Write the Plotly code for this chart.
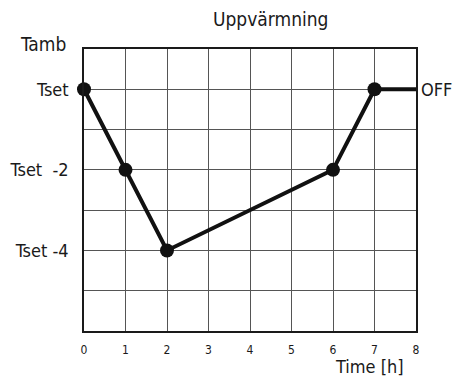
"""
Uppvärmning - temperaturkurva (Tamb vs tid)
"""

import plotly.graph_objects as go

# Data: tid i timmar och temperatur relativt Tset
hours = [0, 1, 2, 6, 7, 8]
temp_offset = [0, -2, -4, -2, 0, 0]
marker_sizes = [14, 14, 14, 14, 14, 0]

x_ticks = [0, 1, 2, 3, 4, 5, 6, 7, 8]
y_tick_vals = [0, -2, -4]
y_tick_text = ["Tset", "Tset\u00a0 -2", "Tset -4"]

FONT = "DejaVu Sans Condensed, Roboto, sans-serif"

# sidan har 8px marginal i webbläsaren -> figuren görs lite mindre
W, H = 458, 377

fig = go.Figure()
fig.add_trace(go.Scatter(
    x=hours,
    y=temp_offset,
    mode="lines+markers",
    line=dict(color="#111", width=4),
    marker=dict(color="#111", size=marker_sizes, opacity=1, line=dict(width=0)),
    cliponaxis=False,
    showlegend=False,
))

fig.update_layout(
    width=W,
    height=H,
    plot_bgcolor="white",
    paper_bgcolor="white",
    font=dict(family=FONT, color="#1a1a1a"),
    margin=dict(l=76, r=50, t=41, b=54, autoexpand=False),
    annotations=[
        dict(text="Uppvärmning", x=(270 - 84) / 332, y=1, xref="paper", yref="paper",
             xanchor="center", yanchor="middle", yshift=30, showarrow=False,
             font=dict(size=19)),
        dict(text="Tamb", x=0, y=1, xref="paper", yref="paper", xanchor="right",
             yanchor="middle", xshift=-16, yshift=5, showarrow=False, font=dict(size=19)),
        dict(text="Time [h]", x=(369 - 84) / 332, y=0, xref="paper", yref="paper",
             xanchor="center", yanchor="middle", yshift=-35, showarrow=False,
             font=dict(size=18)),
        dict(text="OFF", x=8, y=0, xref="x", yref="y", xanchor="left",
             xshift=3, showarrow=False, font=dict(size=18)),
    ],
)

fig.update_xaxes(
    range=[0, 8],
    tickvals=x_ticks,
    tickfont=dict(size=12),
    ticklabelstandoff=7,
    automargin=False,
    showgrid=True, gridcolor="#555", gridwidth=1.3,
    showline=True, linecolor="#1a1a1a", linewidth=1.5, mirror=True,
    zeroline=False, ticks="",
)
fig.update_yaxes(
    range=[-6, 1],
    tickvals=y_tick_vals,
    ticktext=y_tick_text,
    tickfont=dict(size=18),
    ticklabelstandoff=10,
    automargin=False,
    showgrid=True, gridcolor="#555", gridwidth=1.3,
    showline=True, linecolor="#1a1a1a", linewidth=1.5, mirror=True,
    zeroline=False, ticks="",
)
# rutnät för varje grad (även utan etikett)
fig.update_yaxes(minor=dict(dtick=1, tick0=0, showgrid=True, gridcolor="#555", gridwidth=1.3))

fig.write_html("out.html")
